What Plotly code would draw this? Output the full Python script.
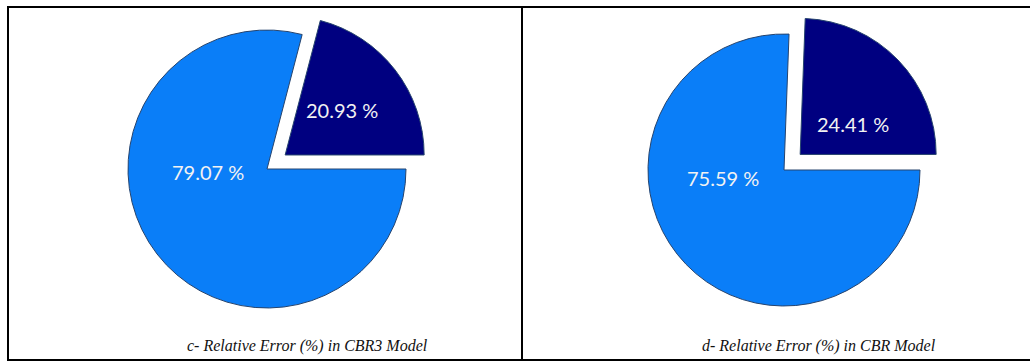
import plotly.graph_objects as go

# Relative error shares for the two models (large share first, small share second)
labels = ["Share B", "Share A"]
cbr3_values = [79.07, 20.93]
cbr_values = [75.59, 24.41]
captions = ["c- Relative Error (%) in CBR3 Model", "d- Relative Error (%) in CBR Model"]

W, H = 1030, 361
DARK = "#000080"
LIGHT = "#0A7EF8"
PULL = 0.165

# pie centre (px from left/top), radius (px) and label anchors for each panel
panels = [
    dict(values=cbr3_values, cx=267, cy=169, r=139,
         lab_big=(208, 172), lab_small=(342, 110), cap_x=307),
    dict(values=cbr_values, cx=784, cy=170, r=136,
         lab_big=(723, 178), lab_small=(853, 124), cap_x=819),
]


def px_x(x):
    return x / W


def px_y(y):
    return (H - y) / H


fig = go.Figure()
annotations = []
for i, p in enumerate(panels):
    half = p["r"] * (1 + PULL)
    fig.add_trace(go.Pie(
        labels=labels,
        values=p["values"],
        sort=False,
        direction="counterclockwise",
        rotation=90,
        pull=[0, PULL],
        marker=dict(colors=[LIGHT, DARK], line=dict(color="#26446e", width=1)),
        textinfo="none",
        hoverinfo="label+percent",
        showlegend=False,
        domain=dict(x=[px_x(p["cx"] - half), px_x(p["cx"] + half)],
                    y=[px_y(p["cy"] + half), px_y(p["cy"] - half)]),
    ))
    for val, (lx, ly) in [(p["values"][0], p["lab_big"]), (p["values"][1], p["lab_small"])]:
        annotations.append(dict(
            x=px_x(lx), y=px_y(ly), xref="paper", yref="paper",
            text=f"{val:.2f} %", showarrow=False,
            xanchor="center", yanchor="middle",
            font=dict(family="Lato, 'Open Sans', sans-serif", size=20, color="#F2F2F2"),
        ))
    annotations.append(dict(
        x=px_x(p["cap_x"]), y=px_y(346), xref="paper", yref="paper",
        text=f"<i>{captions[i]}</i>", showarrow=False,
        xanchor="center", yanchor="middle",
        font=dict(family="'Liberation Serif', 'Times New Roman', serif", size=16, color="#111111"),
    ))

# table frame around the two panels
frame = dict(type="line", xref="paper", yref="paper", line=dict(color="black", width=2))
shapes = [
    dict(frame, x0=px_x(7), x1=1, y0=px_y(7), y1=px_y(7)),
    dict(frame, x0=px_x(7), x1=1, y0=px_y(360), y1=px_y(360)),
    dict(frame, x0=px_x(8), x1=px_x(8), y0=px_y(7), y1=px_y(360)),
    dict(frame, x0=px_x(522), x1=px_x(522), y0=px_y(7), y1=px_y(360)),
]

fig.update_layout(
    width=W, height=H,
    margin=dict(l=0, r=0, t=0, b=0),
    paper_bgcolor="white", plot_bgcolor="white",
    annotations=annotations,
    shapes=shapes,
)

fig.write_html("out.html")
